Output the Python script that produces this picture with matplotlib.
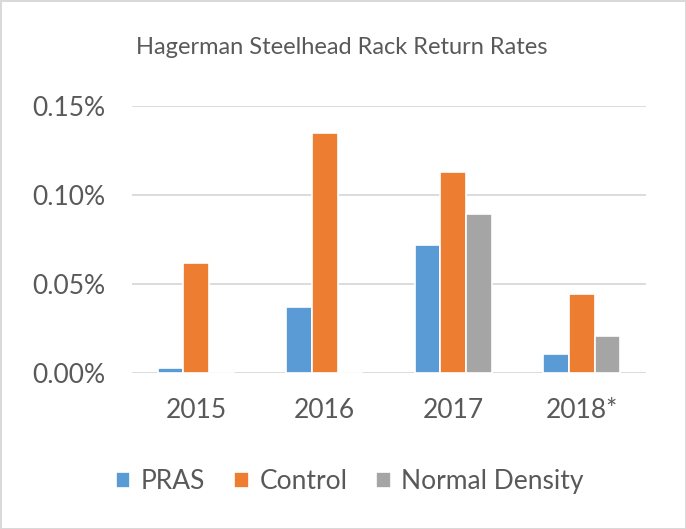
import matplotlib
matplotlib.use('Agg')
import matplotlib.pyplot as plt
import numpy as np

# данные (проценты возврата)
years = ['2015', '2016', '2017', '2018*']
pras = [0.0025, 0.037, 0.0717, 0.0105]
control = [0.0618, 0.1344, 0.1125, 0.0442]
normal_density = [0.0, 0.0, 0.0891, 0.0208]

series_names = ['PRAS', 'Control', 'Normal Density']
colors = ['#5B9BD5', '#ED7D31', '#A5A5A5']
text_color = '#595959'

plt.rcParams['font.family'] = ['Lato', 'DejaVu Sans']

fig = plt.figure(figsize=(6.86, 5.29), dpi=100)
fig.patch.set_edgecolor('#D9D9D9')
fig.patch.set_linewidth(2)
ax = fig.add_axes([0.1924, 0.2955, 0.7493, 0.5047])

x = np.arange(len(years))
w = 0.2
for j, (vals, name) in enumerate(zip([pras, control, normal_density], series_names)):
    ax.bar(x + (j - 1) * w, vals, w, color=colors[j], edgecolor='white',
           linewidth=1.2, label=name, zorder=3)

ax.set_xlim(-0.5, len(years) - 0.5)
ax.set_ylim(0, 0.15)
ax.set_yticks([0, 0.05, 0.10, 0.15])
ax.set_yticklabels(['{:.2f}%'.format(v) for v in [0, 0.05, 0.10, 0.15]])
ax.set_xticks(x)
ax.set_xticklabels(years)
ax.grid(axis='y', color='#D9D9D9', linewidth=1.3, zorder=0)
for s in ax.spines.values():
    s.set_visible(False)
ax.tick_params(length=0, labelsize=19, colors=text_color, pad=0)
ax.tick_params(axis='y', pad=19)
ax.tick_params(axis='x', pad=18)

fig.text(0.4985, 0.911, 'Hagerman Steelhead Rack Return Rates', ha='center',
         va='center', fontsize=17, color=text_color)

fig.legend(loc='center', bbox_to_anchor=(0.51, 0.09), ncol=3, frameon=False,
           fontsize=19, labelcolor=text_color, handlelength=0.55, handleheight=0.55,
           handletextpad=0.4, columnspacing=1.1)

fig.savefig('out.png', dpi=100)
